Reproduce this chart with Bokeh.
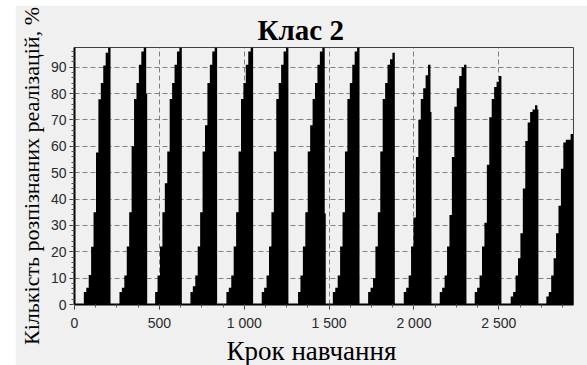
from bokeh.plotting import figure
from bokeh.models import FixedTicker, Range1d, Spacer, Title
from bokeh.layouts import row, column
from bokeh.embed import file_html
from bokeh.resources import INLINE

# ---- data ----
cycle_starts = [55, 265, 475, 683, 895, 1103, 1317, 1522, 1730, 1940, 2152, 2358, 2570, 2780]
cycle_heights = [
    [4.7, 6.4, 11.2, 21.9, 35, 57.7, 77.9, 84, 90.7, 95.5, 97.5],
    [4.7, 6.4, 11, 22, 35, 60, 78, 84, 91, 96, 97.5],
    [4.7, 11, 22, 35, 46, 58, 78, 84, 91, 96, 97.5],
    [4.7, 6.9, 11, 22, 35, 58, 68, 84, 91, 96, 97.5],
    [4.7, 6.4, 11, 22, 35, 58, 78, 84, 91, 96, 97.5],
    [4.7, 6.4, 11, 22, 35, 58, 78, 84, 91, 96, 97.5],
    [4.7, 11, 22, 35, 58, 68, 78, 84, 91, 96, 97.5],
    [4.7, 6.4, 11, 22, 35, 58, 78, 84, 91, 96, 97.5],
    [4.7, 6.4, 10, 22, 35, 58, 78, 84, 91, 93, 95.5],
    [4.7, 6.4, 11, 22, 33, 56, 70, 78, 82, 87, 91],
    [4.7, 6.4, 11, 22, 34, 56, 75, 82, 86.7, 90, 91],
    [4.7, 6.4, 11, 22, 31, 53, 71, 78, 82.5, 84.5, 86.7],
    [3, 4.7, 11, 17.5, 27, 44, 62, 69, 73, 74, 75.6],
    [3, 4.7, 11, 17.5, 27, 37.5, 51.5, 61.5, 62.5, 62.5, 64.7],
]
# short final value at the end of some cycles (0 = none)
cycle_tails = [0, 80, 0, 0, 0, 0, 34.5, 0, 0, 73, 0, 0, 74, 0]

x_ticks = [0, 500, 1000, 1500, 2000, 2500]
x_tick_labels = ["0", "500", "1 000", "1 500", "2 000", "2 500"]
y_ticks = [0, 10, 20, 30, 40, 50, 60, 70, 80, 90]

title_text = "Клас 2"
x_label = "Крок навчання"
y_label = "Кількість розпізнаних реалізацій, %"

BAR_W = 14.3
TAIL_W = 6
BG = "#f0f0f0"

p = figure(width=572, height=360, output_backend="svg", toolbar_location=None,
           x_range=Range1d(0, 2940), y_range=Range1d(0, 97.5),
           min_border_left=59, min_border_right=14, min_border_top=42, min_border_bottom=60,
           background_fill_color=BG, border_fill_color=BG)

# ---- bars: one stepped area per training cycle ----
for s, hs, t in zip(cycle_starts, cycle_heights, cycle_tails):
    xs = [s + i * BAR_W for i in range(len(hs) + 1)]
    ys = list(hs)
    if t:
        xs.append(xs[-1] + TAIL_W)
        ys.append(t)
    ys.append(ys[-1])
    p.varea_step(x=xs, y1=[0] * len(xs), y2=ys, step_mode="after", fill_color="black")

# ---- title ----
ttl = Title(text=title_text, align="left", offset=183, standoff=4,
            text_font="Liberation Serif", text_font_size="29px",
            text_font_style="bold", text_color="black")
p.add_layout(ttl, "above")

# ---- axes ----
p.xaxis.ticker = FixedTicker(ticks=x_ticks, minor_ticks=[v for v in range(0, 3000, 125)])
p.xaxis.major_label_overrides = {t: l for t, l in zip(x_ticks, x_tick_labels)}
p.yaxis.ticker = FixedTicker(ticks=y_ticks, minor_ticks=list(range(0, 98, 2)))

for ax in (p.xaxis[0], p.yaxis[0]):
    ax.axis_line_color = "black"
    ax.axis_line_width = 2
    ax.major_tick_line_color = "#333"
    ax.minor_tick_line_color = "#555"
    ax.major_tick_in = 0
    ax.major_tick_out = 5
    ax.minor_tick_in = 0
    ax.minor_tick_out = 3
    ax.major_label_text_font = "Liberation Sans"
    ax.major_label_text_font_size = "14px"
    ax.major_label_text_color = "#2a2a2a"
p.xaxis.major_label_standoff = 5
p.yaxis.major_label_standoff = 3

p.yaxis.axis_label = y_label
p.yaxis.axis_label_text_font = "Liberation Serif"
p.yaxis.axis_label_text_font_size = "22px"
p.yaxis.axis_label_text_font_style = "normal"
p.yaxis.axis_label_text_color = "black"
p.yaxis.axis_label_standoff = 4

xl = Title(text=x_label, align="left", offset=152, standoff=0,
           text_font="Liberation Serif", text_font_size="27px",
           text_font_style="normal", text_color="black")
p.add_layout(xl, "below")

for g in (p.xgrid[0], p.ygrid[0]):
    g.grid_line_color = "#808080"
    g.grid_line_dash = "5 3"
    g.grid_line_width = 1
p.xgrid.ticker = FixedTicker(ticks=x_ticks)
p.ygrid.ticker = FixedTicker(ticks=y_ticks)

p.outline_line_color = "#404040"
p.outline_line_width = 1

layout = row(Spacer(width=15, height=365), column(Spacer(width=572, height=5), p))
open("out.html", "w").write(file_html(layout, INLINE))
